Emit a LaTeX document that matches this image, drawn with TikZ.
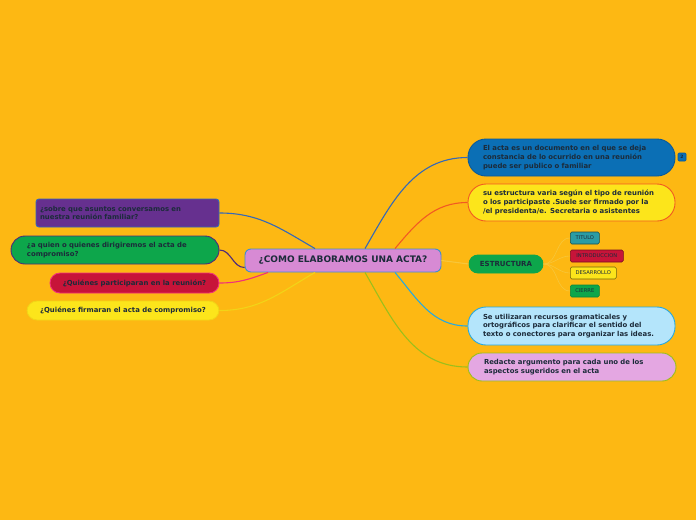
\documentclass[tikz,border=0pt]{standalone}
\usepackage{fontspec}
\setmainfont{DejaVu Sans}
\definecolor{bg}{HTML}{FDB813}
\definecolor{txt}{HTML}{1C2B3A}
\definecolor{cfill}{HTML}{D78AD4}
\definecolor{cdraw}{HTML}{3F8FD0}
\definecolor{bluef}{HTML}{0B6FB5}
\definecolor{blued}{HTML}{0A5A9A}
\definecolor{yelf}{HTML}{FCE51B}
\definecolor{orng}{HTML}{F25A22}
\definecolor{lbf}{HTML}{B4E5FB}
\definecolor{lbd}{HTML}{26A9E0}
\definecolor{pinkf}{HTML}{E4A7E2}
\definecolor{olive}{HTML}{9BBF1B}
\definecolor{purf}{HTML}{66308F}
\definecolor{purd}{HTML}{3468B8}
\definecolor{grnf}{HTML}{0DA64B}
\definecolor{grnd}{HTML}{4F2A7A}
\definecolor{redf}{HTML}{C71439}
\definecolor{redd}{HTML}{F0307A}
\definecolor{yeld}{HTML}{F2D417}
\definecolor{teal}{HTML}{2A9CA5}
\definecolor{faint}{HTML}{F7C63A}
\begin{document}
\begin{tikzpicture}[x=1pt,y=-1pt,
  box/.style={draw, line width=0.9pt, text=txt, font=\fontsize{6.9}{8.6}\bfseries\selectfont, inner sep=0pt, align=left},
  pill/.style={box, rounded corners=#1},
  small/.style={draw, line width=0.6pt, text=txt, font=\fontsize{5.2}{5.5}\selectfont, inner sep=0pt, minimum height=12pt, rounded corners=1.5pt, anchor=west},
  conn/.style={line width=1.1pt}]
\fill[bg] (0,0) rectangle (696,520);
\useasboundingbox (0,0) rectangle (696,520);

% central
\node[pill=6pt, fill=cfill, draw=cdraw, minimum width=196pt, minimum height=23pt, font=\fontsize{9}{10}\bfseries\selectfont, align=center] (c) at (343,260.5) {¿COMO ELABORAMOS UNA ACTA?};

% right side
\node[pill=18pt, fill=bluef, draw=blued, minimum width=207pt, minimum height=37pt, text width=177pt] (r1) at (571.5,157.5) {El acta es un documento en el que se deja\\constancia de lo ocurrido en una reunión\\puede ser publico o familiar};
\node[draw=blued, fill=bluef, line width=0.6pt, rounded corners=1pt, minimum width=8pt, minimum height=8pt, inner sep=0pt, text=txt, font=\fontsize{4.5}{5}\bfseries\selectfont] (badge) at (682,157) {2};
\node[pill=18pt, fill=yelf, draw=orng, minimum width=207pt, minimum height=37pt, text width=177pt] (r2) at (571.5,202.5) {su estructura varia según el tipo de reunión\\o los participaste .Suele ser firmado por la\\/el presidenta/e. Secretaria o asistentes};
\node[pill=9pt, fill=grnf, draw=grnf, minimum width=74pt, minimum height=18pt, font=\fontsize{7}{8}\bfseries\selectfont, align=center] (est) at (506,264) {ESTRUCTURA};
\node[pill=18pt, fill=lbf, draw=lbd, minimum width=207pt, minimum height=38pt, text width=177pt] (r3) at (571.5,326) {Se utilizaran recursos gramaticales y\\ortográficos para clarificar el sentido del\\texto o conectores para organizar las ideas.};
\node[pill=14pt, fill=pinkf, draw=olive, minimum width=208pt, minimum height=28pt, text width=176pt] (r4) at (572,367) {Redacte argumento para cada uno de los\\aspectos sugeridos en el acta};

% estructura children
\node[small, fill=teal, draw=teal!50!black, minimum width=29pt] (s1) at (570,238) {TITULO};
\node[small, fill=redf, draw=redf!60!black, minimum width=53pt] (s2) at (570,256) {INTRODUCCION};
\node[small, fill=yelf, draw=yelf!45!black, minimum width=46pt] (s3) at (570,273) {DESARROLLO};
\node[small, fill=grnf, draw=grnf!80!black, minimum width=29pt] (s4) at (570,291) {CIERRE};

% left side
\node[pill=3pt, fill=purf, draw=purd, minimum width=183pt, minimum height=28pt, text width=175pt] (l1) at (127.5,213) {¿sobre que asuntos conversamos en\\nuestra reunión familiar?};
\node[pill=14pt, fill=grnf, draw=grnd, minimum width=208pt, minimum height=28pt, text width=176pt] (l2) at (115,250) {¿a quien o quienes dirigiremos el acta de\\compromiso?};
\node[pill=10pt, fill=redf, draw=redd, minimum width=169pt, minimum height=20pt, align=center] (l3) at (134.5,283) {¿Quiénes participaran en la reunión?};
\node[pill=10pt, fill=yelf, draw=yeld, minimum width=192pt, minimum height=19pt, align=center] (l4) at (123,310.5) {¿Quiénes firmaran el acta de compromiso?};

% connectors right
\draw[conn, draw=purd] ([xshift=22pt]c.north) to[out=60,in=180] (r1.west);
\draw[conn, draw=orng] ([xshift=52pt]c.north) to[out=50,in=180] (r2.west);
\draw[conn, draw=faint] (c.east) -- (est.west);
\draw[conn, draw=lbd] ([xshift=52pt]c.south) to[out=-50,in=180] (r3.west);
\draw[conn, draw=olive] ([xshift=22pt]c.south) to[out=-60,in=180] (r4.west);
\foreach \s in {s1,s2,s3,s4}
  \draw[line width=0.6pt, draw=faint] (est.east) to[out=0,in=180] (\s.west);

% connectors left
\draw[conn, draw=purd] (l1.east) to[out=0,in=150] ([xshift=-28pt]c.north);
\draw[conn, draw=grnd] (l2.east) to[out=0,in=180] ([yshift=-7pt]c.west);
\draw[conn, draw=redd] (l3.east) to[out=0,in=-160] ([xshift=-75pt]c.south);
\draw[conn, draw=yeld] (l4.east) to[out=0,in=-150] ([xshift=-28pt]c.south);
\end{tikzpicture}
\end{document}
